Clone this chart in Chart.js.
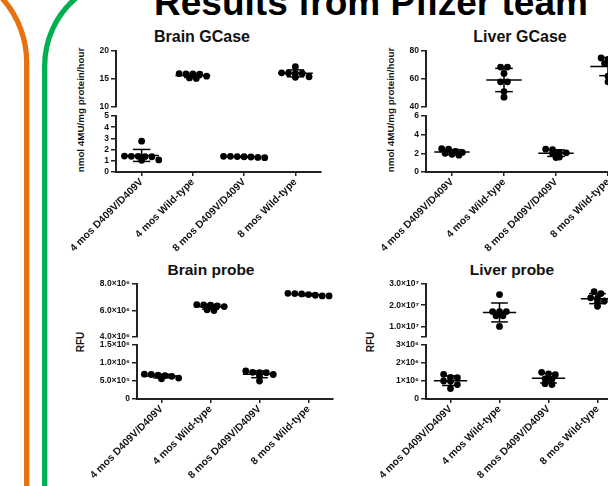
<!DOCTYPE html>
<html>
<head>
<meta charset="utf-8">
<script src="https://cdn.jsdelivr.net/npm/chart.js@4.4.1/dist/chart.umd.min.js"></script>
<style>
  html, body { margin: 0; padding: 0; background: #fff; }
  #page { position: relative; width: 608px; height: 486px; overflow: hidden; }
  #page canvas { position: absolute; }
  #deco { position: absolute; left: 0; top: 0; font-family: 'Liberation Sans', Arial, sans-serif; }
</style>
</head>
<body>
<div id="page">
  <svg id="deco" width="608" height="486">
    <path d="M 2 -2 A 97 97 0 0 1 26.7 65 L 26.7 490" stroke="#e8700e" stroke-width="5.3" fill="none"/>
    <path d="M 76 -2 A 88.8 88.8 0 0 0 44.7 67 L 44.7 490" stroke="#00b050" stroke-width="5.3" fill="none"/>
    <text x="371" y="15" text-anchor="middle" font-size="37" font-weight="bold" fill="#000">Results from Pfizer team</text>
    <text x="202" y="42" text-anchor="middle" font-size="16" font-weight="bold" fill="#111">Brain GCase</text>
    <text x="520" y="42" text-anchor="middle" font-size="16" font-weight="bold" fill="#111">Liver GCase</text>
    <text x="211" y="275" text-anchor="middle" font-size="15.5" font-weight="bold" fill="#111">Brain probe</text>
    <text x="512" y="275" text-anchor="middle" font-size="15.5" font-weight="bold" fill="#111">Liver probe</text>
    <text transform="translate(84,110) rotate(-90)" text-anchor="middle" font-size="9.8" font-weight="bold" fill="#111">nmol 4MU/mg protein/hour</text>
    <text transform="translate(394,110) rotate(-90)" text-anchor="middle" font-size="9.8" font-weight="bold" fill="#111">nmol 4MU/mg protein/hour</text>
    <text transform="translate(84,342) rotate(-90)" text-anchor="middle" font-size="10" font-weight="bold" fill="#111">RFU</text>
    <text transform="translate(374,342) rotate(-90)" text-anchor="middle" font-size="10" font-weight="bold" fill="#111">RFU</text>
  </svg>
</div>
<script>
const FONT = "'Liberation Sans', Arial, sans-serif";
Chart.defaults.font.family = FONT;

const categories = ['4 mos D409V/D409V', '4 mos Wild-type', '8 mos D409V/D409V', '8 mos Wild-type'];

// Brain GCase, nmol 4MU/mg protein/hour
const brainGcaseMut4 = [2.75, 1.42, 1.4, 1.4, 1.38, 1.36, 1.08, 1.05];
const brainGcaseWt4  = [15.95, 15.9, 15.9, 15.85, 15.5, 15.2, 15.1];
const brainGcaseMut8 = [1.4, 1.4, 1.38, 1.36, 1.34, 1.3, 1.28];
const brainGcaseWt8  = [17.2, 16.1, 16.05, 16.0, 16.0, 15.4, 15.3];

// Liver GCase, nmol 4MU/mg protein/hour
const liverGcaseMut4 = [2.5, 2.45, 2.2, 2.1, 2.0, 1.9, 1.8];
const liverGcaseWt4  = [68.5, 68.5, 64, 58, 58, 51, 47];
const liverGcaseMut8 = [2.45, 2.4, 2.1, 2.05, 2.0, 1.6, 1.55];
const liverGcaseWt8  = [75, 74, 73, 71, 69, 62, 58];

// Brain probe, RFU
const brainProbeMut4 = [6.9e5, 6.8e5, 6.6e5, 6.5e5, 6.3e5, 5.8e5, 5.6e5];
const brainProbeWt4  = [6.45e6, 6.42e6, 6.4e6, 6.35e6, 6.3e6, 6.05e6, 6.0e6];
const brainProbeMut8 = [7.8e5, 7.4e5, 7.3e5, 7.3e5, 6.8e5, 6.4e5, 5.0e5];
const brainProbeWt8  = [7.3e6, 7.28e6, 7.25e6, 7.2e6, 7.15e6, 7.1e6, 7.1e6];

// Liver probe, RFU
const liverProbeMut4 = [1.37e6, 1.2e6, 1.18e6, 1.0e6, 0.98e6, 0.8e6, 0.58e6];
const liverProbeWt4  = [2.5e7, 1.7e7, 1.7e7, 1.7e7, 1.5e7, 1.5e7, 1.0e7];
const liverProbeMut8 = [1.48e6, 1.4e6, 1.35e6, 1.12e6, 1.1e6, 0.85e6, 0.8e6];
const liverProbeWt8  = [2.64e7, 2.55e7, 2.35e7, 2.33e7, 2.2e7, 2.15e7, 1.95e7];

// broken y axes: upper and lower segment ticks
const brainGcaseTopTicks = [10, 15, 20];
const brainGcaseTopLabels = ['10', '15', '20'];
const brainGcaseLowTicks = [0, 1, 2, 3, 4, 5];
const brainGcaseLowLabels = ['0', '1', '2', '3', '4', '5'];

const liverGcaseTopTicks = [40, 60, 80];
const liverGcaseTopLabels = ['40', '60', '80'];
const liverGcaseLowTicks = [0, 2, 4, 6];
const liverGcaseLowLabels = ['0', '2', '4', '6'];

const brainProbeTopTicks = [4e6, 6e6, 8e6];
const brainProbeTopLabels = ['4.0×10⁶', '6.0×10⁶', '8.0×10⁶'];
const brainProbeLowTicks = [0, 5e5, 1e6, 1.5e6];
const brainProbeLowLabels = ['0', '5.0×10⁵', '1.0×10⁶', '1.5×10⁶'];

const liverProbeTopTicks = [5e6, 1e7, 2e7, 3e7];
const liverProbeTopLabels = ['', '1.0×10⁷', '2.0×10⁷', '3.0×10⁷'];
const liverProbeLowTicks = [0, 1e6, 2e6, 3e6];
const liverProbeLowLabels = ['0', '1×10⁶', '2×10⁶', '3×10⁶'];

const YW = 60;      // y axis box width
const XH = 100;     // x axis box height
const PAD_T = 12;
const PAD_B = 10;
const DOT_STEP = 7;
const ROW_TOL = 4;

const mean = a => a.reduce((s, v) => s + v, 0) / a.length;
const stdev = a => {
  const m = mean(a);
  return Math.sqrt(a.reduce((s, v) => s + (v - m) * (v - m), 0) / (a.length - 1));
};

// prism-like scatter: points with close values are put in centred rows
function swarm(vals, pxX, pxY) {
  const order = vals.map((v, i) => i).sort((a, b) => vals[b] - vals[a]);
  const rows = [];
  order.forEach(i => {
    const row = rows[rows.length - 1];
    if (row && (vals[row[0]] - vals[i]) * pxY < ROW_TOL) row.push(i);
    else rows.push([i]);
  });
  const offs = [];
  rows.forEach(row => {
    row.forEach((i, j) => {
      offs[i] = (j - (row.length - 1) / 2) * DOT_STEP / pxX;
    });
  });
  return offs;
}

const meanSdPlugin = {
  id: 'meanSd',
  afterDatasetsDraw(chart) {
    const { ctx, scales: { x, y } } = chart;
    ctx.save();
    ctx.strokeStyle = '#000';
    ctx.lineWidth = 1.5;
    const seg = (x0, y0, x1, y1) => {
      ctx.beginPath();
      ctx.moveTo(x.getPixelForValue(x0), y.getPixelForValue(y0));
      ctx.lineTo(x.getPixelForValue(x1), y.getPixelForValue(y1));
      ctx.stroke();
    };
    chart.data.datasets.forEach(ds => {
      const g = ds.group, m = mean(ds.vals), sd = stdev(ds.vals);
      seg(g - 0.34, m, g + 0.34, m);
      seg(g, m - sd, g, m + sd);
      seg(g - 0.17, m + sd, g + 0.17, m + sd);
      seg(g - 0.17, m - sd, g + 0.17, m - sd);
    });
    ctx.restore();
  }
};

const page = document.getElementById('page');

function makePanel(p) {
  ['top', 'low'].forEach(name => {
    const s = p[name];
    const isLow = name === 'low';
    const areaH = s.y1 - s.y0;
    const pxY = areaH / (s.max - s.min);
    const datasets = [];
    p.groups.forEach((vals, g) => {
      const inTop = mean(vals) >= p.top.min;
      if (inTop === isLow) return;
      const offs = swarm(vals, p.unitW, pxY);
      datasets.push({
        group: g + 1,
        vals,
        data: vals.map((v, i) => ({ x: g + 1 + offs[i], y: v })),
        pointRadius: 3.4,
        pointBackgroundColor: '#000',
        pointBorderWidth: 0,
        clip: false
      });
    });

    const cv = document.createElement('canvas');
    const W = YW + 4 * p.unitW;
    const H = PAD_T + areaH + (isLow ? XH : PAD_B);
    cv.width = W;
    cv.height = H;
    cv.style.width = W + 'px';
    cv.style.height = H + 'px';
    cv.style.left = (p.axisX - YW) + 'px';
    cv.style.top = (s.y0 - PAD_T) + 'px';
    page.appendChild(cv);

    new Chart(cv, {
      type: 'scatter',
      data: { datasets },
      options: {
        responsive: false,
        animation: false,
        devicePixelRatio: 1,
        layout: { padding: { top: PAD_T, bottom: isLow ? 0 : PAD_B, left: 0, right: 0 } },
        plugins: { legend: { display: false }, tooltip: { enabled: false } },
        scales: {
          x: {
            type: 'linear',
            min: 0.5,
            max: 4.5,
            display: isLow,
            afterBuildTicks: sc => { sc.ticks = categories.map((c, i) => ({ value: i + 1 })); },
            afterFit: sc => {
              if (isLow) sc.height = XH;
              sc.paddingLeft = 0;
              sc.paddingRight = 0;
            },
            grid: { drawOnChartArea: false, drawTicks: true, tickLength: 4, color: '#222', lineWidth: 1.5 },
            border: { display: true, color: '#222', width: 2 },
            ticks: {
              autoSkip: false,
              minRotation: 45,
              maxRotation: 45,
              padding: 0,
              color: '#111',
              font: { size: 10.3, weight: 'bold' },
              callback: v => categories[v - 1]
            }
          },
          y: {
            type: 'linear',
            min: s.min,
            max: s.max,
            afterBuildTicks: sc => { sc.ticks = s.ticks.map(v => ({ value: v })); },
            afterFit: sc => { sc.width = YW; },
            grid: { drawOnChartArea: false, drawTicks: true, tickLength: 5, color: '#222', lineWidth: 1.5 },
            border: { display: true, color: '#222', width: 2 },
            ticks: {
              autoSkip: false,
              padding: 2,
              color: '#111',
              font: { size: 8.5, weight: 'bold' },
              callback: (v, i) => s.labels[i]
            }
          }
        }
      },
      plugins: [meanSdPlugin]
    });
  });
}

makePanel({
  axisX: 116, unitW: 52.3,
  groups: [brainGcaseMut4, brainGcaseWt4, brainGcaseMut8, brainGcaseWt8],
  top: { min: 10, max: 20, ticks: brainGcaseTopTicks, labels: brainGcaseTopLabels, y0: 51, y1: 107 },
  low: { min: 0, max: 5, ticks: brainGcaseLowTicks, labels: brainGcaseLowLabels, y0: 116, y1: 172 }
});

makePanel({
  axisX: 426, unitW: 53,
  groups: [liverGcaseMut4, liverGcaseWt4, liverGcaseMut8, liverGcaseWt8],
  top: { min: 40, max: 80, ticks: liverGcaseTopTicks, labels: liverGcaseTopLabels, y0: 51, y1: 107 },
  low: { min: 0, max: 6, ticks: liverGcaseLowTicks, labels: liverGcaseLowLabels, y0: 116, y1: 172 }
});

makePanel({
  axisX: 137, unitW: 50,
  groups: [brainProbeMut4, brainProbeWt4, brainProbeMut8, brainProbeWt8],
  top: { min: 4e6, max: 8e6, ticks: brainProbeTopTicks, labels: brainProbeTopLabels, y0: 284, y1: 337 },
  low: { min: 0, max: 1.5e6, ticks: brainProbeLowTicks, labels: brainProbeLowLabels, y0: 345, y1: 399 }
});

makePanel({
  axisX: 426, unitW: 50,
  groups: [liverProbeMut4, liverProbeWt4, liverProbeMut8, liverProbeWt8],
  top: { min: 5e6, max: 3e7, ticks: liverProbeTopTicks, labels: liverProbeTopLabels, y0: 284, y1: 337 },
  low: { min: 0, max: 3e6, ticks: liverProbeLowTicks, labels: liverProbeLowLabels, y0: 345, y1: 399 }
});
</script>
</body>
</html>
